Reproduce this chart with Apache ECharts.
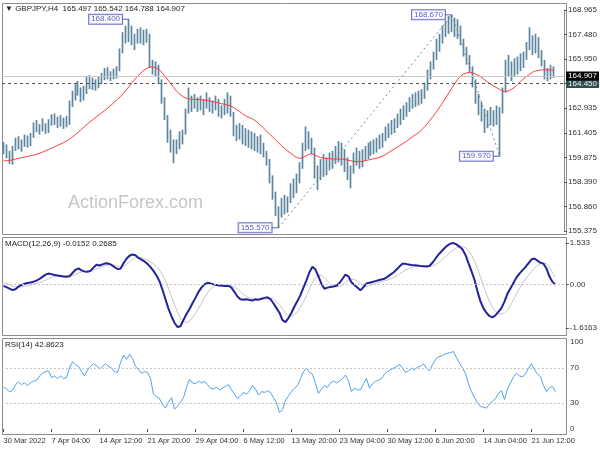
<!DOCTYPE html>
<html><head><meta charset="utf-8">
<script src="https://cdn.jsdelivr.net/npm/echarts/dist/echarts.min.js"></script>
<style>html,body{margin:0;padding:0;background:#fff}#c{width:600px;height:450px}</style>
</head><body><div id="c"></div>
<script>
// ---- tick labels ----
const xLabels = ['30 Mar 2022','7 Apr 04:00','14 Apr 12:00','21 Apr 20:00','29 Apr 04:00','6 May 12:00','13 May 20:00','23 May 04:00','30 May 12:00','6 Jun 20:00','14 Jun 04:00','21 Jun 12:00'];
const labelStep = 16;
const nSlots = 188;
const priceTicks = ['155.375','156.860','158.390','159.875','161.405','162.935','','165.950','167.480','168.965'];
const priceMin = 155.375, priceMax = 168.965;
const macdTickVals = [-1.6163, 0, 1.533];
const macdTickText = ['-1.6163', '0.00', '1.533'];
const rsiTicks = [0, 30, 70, 100];
const rsiLevels = [70, 30];

// ---- header values ----
const symbolName = 'GBPJPY,H4';
const lastOHLC = [165.497, 165.542, 164.788, 164.907];
const macdHeader = [-0.0152, 0.2685];
const rsiHeader = 42.8623;
const lastPrice = 164.907;
const levelPrice = 164.450;

// ---- swing annotations ----
const swingIdx = [42, 92, 150, 166];
const swingVal = [168.40, 155.57, 168.67, 159.97];
const zigIdx = [92, 150, 166];
const zigVal = [155.57, 168.67, 159.97];

// ---- price bars ----
const firstOpen = 160.30;
const closes = [
160.55,160.00,159.80,160.45,160.90,160.60,160.80,161.10,160.70,161.20,
161.90,161.60,161.80,161.70,161.55,162.10,162.30,162.05,162.20,161.95,
162.15,162.00,163.20,163.70,164.10,163.90,163.60,164.00,164.50,164.40,
164.60,164.25,164.70,164.85,165.10,164.90,165.00,164.95,165.30,166.40,
167.40,167.20,167.90,167.00,167.30,167.60,167.10,167.50,167.40,165.60,
165.40,165.30,164.60,163.50,162.40,161.10,160.60,160.30,160.80,161.30,
161.40,162.70,163.20,163.40,163.10,163.30,163.00,163.30,163.40,162.90,
163.20,163.10,162.70,162.90,163.00,163.40,162.60,161.50,161.40,161.70,
161.00,161.40,160.80,161.20,160.70,161.00,160.40,160.20,159.60,158.50,
157.60,156.60,156.20,157.00,156.80,157.30,157.90,158.20,158.50,159.30,
160.50,161.00,160.70,160.30,158.90,158.80,159.50,159.00,159.60,159.40,
160.00,159.80,160.60,159.70,159.30,158.80,159.10,159.80,160.10,159.60,
160.20,160.30,160.50,160.40,160.70,160.90,160.80,161.20,161.50,161.70,
161.60,162.10,162.40,162.60,162.90,163.10,163.30,163.50,163.40,163.70,
163.60,164.30,165.00,165.60,166.10,166.80,167.20,167.70,168.00,167.90,
168.20,167.60,167.50,167.10,166.40,165.90,165.40,164.50,163.50,163.00,
162.40,162.00,162.50,162.30,162.60,162.20,162.80,164.00,165.40,165.20,
165.50,165.30,165.80,165.90,166.20,166.80,167.00,166.60,167.20,166.30,
165.80,165.00,165.20,165.00,164.91];
const highs = [
160.85,160.70,160.30,160.60,161.10,161.20,161.00,161.30,161.25,161.40,
162.05,162.20,161.95,162.30,162.00,162.25,162.55,162.60,162.40,162.50,
162.35,162.45,163.40,164.00,164.40,164.60,164.20,164.30,164.85,164.95,
164.80,164.70,164.90,165.10,165.40,165.45,165.20,165.35,165.50,166.60,
167.60,168.00,168.40,168.00,167.50,167.80,167.90,167.75,167.80,167.50,
165.90,165.80,165.60,164.70,163.60,162.50,161.60,161.00,161.00,161.50,
161.60,162.90,164.20,163.70,163.80,163.60,163.70,163.50,163.90,163.60,
163.40,163.70,163.50,163.10,163.50,163.90,163.70,162.70,161.90,162.00,
161.90,161.70,161.60,161.50,161.40,161.20,161.30,160.80,160.30,159.80,
158.80,157.80,156.90,157.40,157.60,157.50,158.30,158.60,158.90,159.60,
160.80,161.80,161.50,161.10,160.50,159.40,159.80,160.10,159.90,160.20,
160.30,160.60,160.90,160.80,160.40,159.90,159.40,160.20,160.50,160.30,
160.40,160.60,160.80,160.90,161.00,161.10,161.30,161.40,161.80,162.00,
162.20,162.30,162.60,162.90,163.10,163.30,163.60,163.80,163.90,164.00,
164.10,164.50,165.30,165.80,166.40,167.20,167.50,168.00,168.30,168.60,
168.67,168.50,168.40,168.00,167.20,166.70,166.20,165.50,164.70,163.80,
163.30,162.90,162.80,163.00,162.80,163.10,163.00,164.20,165.90,166.20,
165.80,166.00,166.10,166.30,166.40,167.00,167.90,167.40,167.50,167.30,
166.50,165.90,165.40,165.60,165.50];
const lows = [
160.10,159.85,159.50,159.45,160.30,160.40,160.25,160.55,160.50,160.60,
161.10,161.45,161.30,161.50,161.35,161.40,161.85,161.90,161.70,161.80,
161.65,161.75,161.90,163.00,163.40,163.70,163.30,163.40,163.80,164.10,
164.05,164.00,164.15,164.40,164.65,164.70,164.60,164.70,164.75,165.20,
166.30,166.90,167.00,166.80,166.50,166.90,166.90,166.80,166.95,165.40,
165.00,164.90,164.40,163.20,162.20,160.80,160.20,159.55,160.10,160.40,
160.70,161.30,162.60,162.70,162.90,162.70,162.80,162.50,162.90,162.70,
162.60,162.80,162.40,162.30,162.50,162.60,162.40,161.20,160.90,161.00,
160.70,160.60,160.50,160.40,160.30,160.20,160.10,159.90,159.40,158.30,
157.30,156.30,155.57,156.20,156.40,156.50,157.10,157.40,157.70,158.30,
159.20,160.30,160.40,160.10,158.60,157.90,158.50,158.70,158.80,159.10,
159.20,159.50,159.60,159.40,159.00,158.50,158.00,158.90,159.40,159.20,
159.30,159.70,159.80,160.00,160.10,160.20,160.40,160.50,160.90,161.10,
161.30,161.40,161.70,161.90,162.20,162.40,162.70,162.90,163.00,163.10,
163.20,163.50,164.00,164.70,165.30,165.90,166.40,166.90,167.30,167.50,
167.60,167.30,167.20,166.80,166.10,165.60,165.10,164.20,163.20,162.50,
162.10,161.40,161.70,161.90,161.80,161.90,159.97,162.60,163.90,164.90,
164.60,164.90,165.00,165.20,165.40,165.90,166.50,166.20,166.30,166.00,
165.50,164.70,164.60,164.70,164.79];
const ma = [
159.68,159.70,159.72,159.75,159.80,159.84,159.88,159.92,159.96,160.00,
160.04,160.09,160.15,160.22,160.30,160.38,160.46,160.55,160.63,160.71,
160.80,160.90,161.02,161.15,161.30,161.46,161.62,161.78,161.94,162.10,
162.24,162.38,162.52,162.66,162.80,162.96,163.12,163.28,163.45,163.62,
163.82,164.04,164.26,164.50,164.72,164.92,165.10,165.26,165.38,165.45,
165.47,165.42,165.30,165.12,164.90,164.66,164.42,164.18,163.96,163.78,
163.64,163.55,163.50,163.48,163.47,163.46,163.45,163.43,163.40,163.37,
163.33,163.29,163.25,163.20,163.16,163.12,163.06,162.96,162.84,162.72,
162.58,162.46,162.36,162.30,162.18,162.04,161.88,161.70,161.52,161.34,
161.16,160.98,160.80,160.62,160.46,160.30,160.16,160.02,159.90,159.84,
159.88,159.98,160.08,160.12,160.06,159.96,159.90,159.86,159.84,159.82,
159.80,159.80,159.80,159.80,159.78,159.74,159.70,159.66,159.64,159.64,
159.66,159.70,159.74,159.78,159.82,159.86,159.92,160.00,160.10,160.22,
160.34,160.46,160.56,160.68,160.80,160.92,161.06,161.20,161.32,161.44,
161.62,161.82,162.04,162.26,162.50,162.76,163.02,163.30,163.60,163.88,
164.18,164.46,164.72,164.92,165.04,165.10,165.12,165.10,165.02,164.92,
164.80,164.66,164.52,164.40,164.28,164.18,164.08,163.98,163.94,164.00,
164.10,164.22,164.40,164.58,164.74,164.88,165.02,165.14,165.22,165.26,
165.28,165.28,165.28,165.28,165.28];

// ---- MACD ----
const macd = [
-0.06,-0.10,-0.16,-0.21,-0.18,-0.08,-0.02,0.02,0.05,0.07,
0.10,0.14,0.20,0.28,0.36,0.40,0.38,0.35,0.33,0.31,
0.29,0.28,0.30,0.42,0.54,0.59,0.52,0.48,0.47,0.50,
0.62,0.73,0.70,0.74,0.78,0.77,0.72,0.64,0.57,0.58,
0.78,0.95,1.06,1.11,1.08,0.98,0.92,0.85,0.76,0.64,
0.50,0.33,0.12,-0.20,-0.55,-0.90,-1.18,-1.42,-1.58,-1.55,
-1.32,-1.10,-0.92,-0.70,-0.50,-0.28,-0.12,0.00,0.06,0.03,
0.00,-0.02,-0.04,-0.05,-0.06,-0.05,-0.12,-0.28,-0.45,-0.55,
-0.57,-0.55,-0.58,-0.60,-0.55,-0.57,-0.53,-0.50,-0.48,-0.55,
-0.70,-0.88,-1.05,-1.32,-1.40,-1.25,-1.05,-0.82,-0.62,-0.40,
-0.12,0.15,0.45,0.65,0.55,0.30,0.02,-0.16,-0.12,-0.10,
-0.08,-0.05,0.05,0.20,0.36,0.30,0.08,-0.02,-0.12,-0.22,
-0.10,0.03,0.06,0.09,0.12,0.15,0.18,0.21,0.28,0.36,
0.44,0.54,0.66,0.76,0.76,0.74,0.72,0.71,0.70,0.68,
0.67,0.66,0.68,0.80,0.95,1.10,1.22,1.34,1.44,1.51,
1.53,1.48,1.40,1.30,1.10,0.80,0.50,0.18,-0.25,-0.62,
-0.88,-1.05,-1.17,-1.22,-1.15,-1.02,-0.88,-0.65,-0.35,-0.15,
0.05,0.25,0.40,0.52,0.64,0.78,0.92,0.96,0.88,0.80,
0.77,0.60,0.30,0.10,-0.02];
const signal = [
0.05,0.02,-0.02,-0.06,-0.09,-0.10,-0.09,-0.07,-0.05,-0.02,
0.01,0.04,0.07,0.11,0.16,0.21,0.26,0.30,0.32,0.33,
0.33,0.32,0.31,0.33,0.37,0.42,0.46,0.48,0.48,0.49,
0.52,0.57,0.62,0.66,0.70,0.73,0.74,0.72,0.68,0.65,
0.67,0.74,0.83,0.92,0.98,1.00,0.99,0.95,0.90,0.84,
0.76,0.66,0.53,0.35,0.12,-0.15,-0.45,-0.75,-1.02,-1.24,
-1.38,-1.42,-1.36,-1.24,-1.08,-0.90,-0.70,-0.50,-0.32,-0.18,
-0.08,-0.02,0.00,-0.01,-0.03,-0.04,-0.06,-0.10,-0.18,-0.28,
-0.38,-0.45,-0.50,-0.54,-0.56,-0.57,-0.56,-0.55,-0.53,-0.52,
-0.55,-0.63,-0.75,-0.90,-1.05,-1.15,-1.18,-1.12,-1.00,-0.84,
-0.65,-0.42,-0.18,0.05,0.24,0.34,0.34,0.24,0.12,0.02,
-0.05,-0.08,-0.07,-0.02,0.07,0.16,0.20,0.18,0.12,0.03,
-0.05,-0.08,-0.05,-0.01,0.03,0.07,0.10,0.13,0.16,0.20,
0.25,0.31,0.38,0.46,0.53,0.59,0.63,0.66,0.68,0.69,
0.69,0.68,0.68,0.69,0.73,0.80,0.89,0.99,1.09,1.19,
1.28,1.35,1.39,1.40,1.36,1.26,1.10,0.88,0.60,0.28,
-0.05,-0.35,-0.62,-0.84,-0.99,-1.08,-1.10,-1.06,-0.95,-0.78,
-0.58,-0.36,-0.15,0.04,0.20,0.34,0.48,0.60,0.70,0.76,
0.79,0.77,0.64,0.45,0.27];

// ---- RSI ----
const rsi = [
48.6,46,43,44,51,54,51,53,50,53,
55,56,61,64,66,67,59,61,58,61,
58,59,70,77,74,72,66,61,68,72,
75,73,69,72,75,72,70,66,65,76,
85,80,86,81,72,68,64,66,65,58,
40,37,35,28,24,31,36,23,26,31,
36,48,57,53,52,55,53,55,51,47,
46,48,45,47,49,51,45,40,35,38,
42,40,44,50,46,39,43,42,44,42,
36,30,19,22,33,38,43,47,50,58,
66,70,65,63,52,41,46,50,48,53,
55,53,55,58,62,55,43,47,45,45,
52,58,47,52,55,56,58,63,66,68,
70,72,74,70,65,67,70,68,71,72,
75,70,67,74,80,83,84,86,87,88,
89,82,76,70,64,52,43,36,30,26,
25,24,29,32,35,41,44,34,46,53,
60,64,61,60,63,70,75,68,63,60,
50,43,47,49,42.86];

// ---- build ----
const FONT = '"Liberation Sans", Arial, "DejaVu Sans", sans-serif';
const BAR = '#5d869e';
const cats = Array.from({length: nSlots}, (_, i) => (i % labelStep === 0 && xLabels[i / labelStep]) ? xLabels[i / labelStep] : '');
const isLabel = (i) => i % labelStep === 0 && (i / labelStep) < xLabels.length;
const candles = closes.map((c, i) => [i === 0 ? firstOpen : closes[i - 1], c, lows[i], highs[i]]);

const chart = echarts.init(document.getElementById('c'), null, {renderer: 'canvas', width: 600, height: 450});

const xAxes = [0, 1, 2].map(g => ({
  type: 'category', gridIndex: g, data: cats, boundaryGap: true,
  show: g === 2, offset: 5,
  axisLine: {show: false},
  axisTick: {show: true, alignWithLabel: true, interval: isLabel, length: 3, lineStyle: {color: '#555'}},
  axisLabel: {interval: isLabel, align: 'left', fontSize: 7.5, color: '#333', margin: 3, fontFamily: FONT},
  splitLine: {show: false}
}));

const axisCommon = {
  position: 'right', splitLine: {show: false},
  axisLine: {show: true, lineStyle: {color: '#8c8c8c'}},
  axisTick: {show: true, length: 3, lineStyle: {color: '#555'}},
};

const option = {
  animation: false,
  backgroundColor: '#ffffff',
  textStyle: {fontFamily: FONT},
  grid: [
    {left: 2, right: 34, top: 10, height: 221},
    {left: 2, right: 34, top: 243, height: 85},
    {left: 2, right: 34, top: 342, height: 87}
  ],
  xAxis: xAxes,
  yAxis: [
    {gridIndex: 0, type: 'value', min: priceMin, max: priceMax, show: false, scale: true},
    Object.assign({}, axisCommon, {gridIndex: 0, type: 'value', min: 0, max: priceTicks.length - 1, interval: 1,
      axisLabel: {formatter: v => priceTicks[Math.round(v)] || '', fontSize: 8, color: '#333', margin: 4, fontFamily: FONT}}),
    Object.assign({}, axisCommon, {gridIndex: 1, type: 'value', min: macdTickVals[0], max: macdTickVals[2], interval: -macdTickVals[0],
      axisLabel: {showMinLabel: true, showMaxLabel: true, fontSize: 8, color: '#333', margin: 4, fontFamily: FONT,
        formatter: v => { let best = 0; macdTickVals.forEach((t, k) => { if (Math.abs(t - v) < Math.abs(macdTickVals[best] - v)) best = k; }); return macdTickText[best]; }}}),
    Object.assign({}, axisCommon, {gridIndex: 2, type: 'value', min: 0, max: 100, interval: 10,
      axisTick: {show: false},
      axisLabel: {fontSize: 8, color: '#333', margin: 4, fontFamily: FONT,
        formatter: v => rsiTicks.indexOf(Math.round(v)) >= 0 ? String(Math.round(v)) : ''}})
  ],
  series: [
    {
      type: 'candlestick', xAxisIndex: 0, yAxisIndex: 0, data: candles, barWidth: 1,
      itemStyle: {color: BAR, color0: BAR, borderColor: BAR, borderColor0: BAR, borderWidth: 1.7},
      markLine: {
        silent: true, symbol: 'none', animation: false, precision: 3,
        data: [
          {yAxis: levelPrice, lineStyle: {color: '#555', type: [3, 3], width: 1},
            label: {show: true, position: 'end', distance: 2, formatter: levelPrice.toFixed(3), backgroundColor: '#2f4f4f', color: '#f0f0f0', fontSize: 8, padding: [1, 2, 0, 2], fontFamily: FONT}},
          {yAxis: lastPrice, lineStyle: {color: '#c8c8c8', type: 'solid', width: 1},
            label: {show: true, position: 'end', distance: 2, formatter: lastPrice.toFixed(3), backgroundColor: '#000', color: '#fff', fontSize: 8, padding: [1, 2, 0, 2], fontFamily: FONT}}
        ]
      },
      z: 2
    },
    {type: 'line', xAxisIndex: 0, yAxisIndex: 0, data: ma, symbol: 'none', lineStyle: {color: '#ff3b3b', width: 1}, z: 3},
    {type: 'line', xAxisIndex: 0, yAxisIndex: 0, data: zigIdx.map((x, k) => [x, zigVal[k]]), symbol: 'none',
      lineStyle: {color: '#7c8c8c', width: 1, type: [2, 3]}, z: 3},
    {type: 'scatter', xAxisIndex: 0, yAxisIndex: 0, data: swingIdx.map((x, k) => [x, swingVal[k]]),
      symbol: 'rect', symbolSize: [7, 1], symbolOffset: [-3.5, 0], itemStyle: {color: '#3a3ab4'}, z: 6,
      label: {show: true, position: 'left', distance: 0, formatter: p => p.value[1].toFixed(3),
        backgroundColor: '#fff', borderColor: '#4a4ac4', borderWidth: 1, padding: [1, 2, 0, 2], color: '#3030a8', fontSize: 8, fontFamily: FONT}},
    {type: 'line', xAxisIndex: 1, yAxisIndex: 2, data: signal, symbol: 'none', lineStyle: {color: '#c6c6c6', width: 1}, z: 2},
    {type: 'line', xAxisIndex: 1, yAxisIndex: 2, data: macd, symbol: 'none', lineStyle: {color: '#22229a', width: 2}, z: 3,
      markLine: {silent: true, symbol: 'none', label: {show: false}, data: [{yAxis: 0}], lineStyle: {color: '#c4c4c4', type: [2, 2], width: 1}}},
    {type: 'line', xAxisIndex: 2, yAxisIndex: 3, data: rsi, symbol: 'none', lineStyle: {color: '#4aa2f2', width: 1}, z: 3,
      markLine: {silent: true, symbol: 'none', label: {show: false}, data: rsiLevels.map(v => ({yAxis: v})), lineStyle: {color: '#c4c4c4', type: [2, 2], width: 1}}}
  ],
  graphic: [
    {type: 'rect', silent: true, z: -1, shape: {x: 2.5, y: 3.5, width: 564, height: 231}, style: {fill: 'rgba(0,0,0,0)', stroke: '#8c8c8c', lineWidth: 1}},
    {type: 'rect', silent: true, z: -1, shape: {x: 2.5, y: 237.5, width: 564, height: 98}, style: {fill: 'rgba(0,0,0,0)', stroke: '#8c8c8c', lineWidth: 1}},
    {type: 'rect', silent: true, z: -1, shape: {x: 2.5, y: 338.5, width: 564, height: 96}, style: {fill: 'rgba(0,0,0,0)', stroke: '#8c8c8c', lineWidth: 1}},
    {type: 'text', silent: true, z: -1, x: 68, y: 194, style: {text: 'ActionForex.com', fill: '#c6c6c6', font: '18px "Liberation Sans", Arial, sans-serif', textVerticalAlign: 'top', verticalAlign: 'top'}},
    {type: 'text', silent: true, x: 5, y: 5, style: {text: '\u25BC ' + symbolName + '  ' + lastOHLC.map(v => v.toFixed(3)).join(' '), fill: '#222', font: '8px "Liberation Sans", "DejaVu Sans", sans-serif', textVerticalAlign: 'top', verticalAlign: 'top'}},
    {type: 'text', silent: true, x: 5, y: 240, style: {text: 'MACD(12,26,9) ' + macdHeader[0].toFixed(4) + ' ' + macdHeader[1].toFixed(4), fill: '#222', font: '8px "Liberation Sans", sans-serif', textVerticalAlign: 'top', verticalAlign: 'top'}},
    {type: 'text', silent: true, x: 5, y: 341, style: {text: 'RSI(14) ' + rsiHeader.toFixed(4), fill: '#222', font: '8px "Liberation Sans", sans-serif', textVerticalAlign: 'top', verticalAlign: 'top'}}
  ]
};
chart.setOption(option);
</script>
</body></html>
